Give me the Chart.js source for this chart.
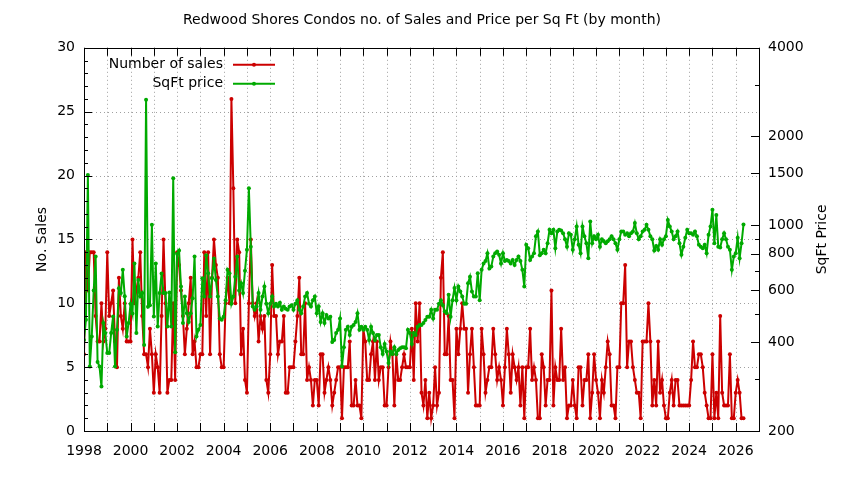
<!DOCTYPE html>
<html>
<head>
<meta charset="utf-8">
<title>Redwood Shores Condos</title>
<script src="https://cdn.jsdelivr.net/npm/chart.js@4.4.1/dist/chart.umd.min.js"></script>
<style>
  html, body { margin: 0; padding: 0; background: #fff; }
  canvas { display: block; }
</style>
</head>
<body>
<canvas id="condoChart" width="844" height="480"></canvas>
<script>
// monthly data, first value = Jan 1998
const startYear = 1998;

// number of sales per month (one line per year)
const sales = [
  6,14,11,14,14,14,9,7,7,10,7,8,
  14,9,10,11,7,5,12,9,8,10,7,7,
  7,15,10,11,12,14,9,6,6,5,8,6,
  3,6,5,3,9,15,10,3,4,4,10,4,
  14,13,11,9,6,8,10,12,6,7,5,5,
  6,6,14,9,14,6,12,15,13,12,6,5,
  5,10,12,10,26,19,10,15,14,6,8,4,
  3,10,15,10,9,10,7,9,8,9,4,3,
  6,13,9,9,6,7,7,9,3,3,5,5,
  5,7,9,12,6,6,10,4,5,4,2,4,
  4,2,6,6,3,4,5,4,2,3,4,5,
  5,1,5,5,5,7,2,2,4,2,2,1,
  8,7,4,4,6,7,4,7,4,5,5,2,
  2,5,7,6,2,6,4,4,5,6,5,5,
  5,8,4,10,7,10,3,2,4,1,3,1,
  2,5,2,3,12,14,6,6,9,4,4,1,
  8,6,8,10,8,8,3,6,8,5,2,2,
  2,8,6,3,4,5,5,8,6,4,5,4,
  2,5,8,6,3,6,5,4,5,2,5,1,
  5,5,8,4,5,4,1,1,6,5,2,4,
  4,11,2,5,4,4,8,4,5,1,2,2,
  4,2,1,5,5,2,4,4,6,1,3,6,
  4,3,1,4,3,5,7,6,2,2,1,5,
  5,10,10,13,5,7,7,5,4,3,3,1,
  7,7,7,10,7,2,4,2,7,3,4,2,
  1,1,3,4,2,4,4,2,2,2,2,2,
  2,4,7,5,5,6,6,5,3,2,1,1,
  6,1,3,1,9,3,2,2,2,6,1,1,
  3,4,3,1,1
];

// price per sq ft per month
const price = [
  407,477,1480,331,419,600,782,343,331,283,465,430,
  368,368,430,490,331,441,610,588,705,573,419,465,
  540,501,741,430,651,573,588,392,2665,528,535,1002,
  490,741,453,588,685,588,588,453,590,453,1443,370,
  800,820,619,465,572,502,469,502,565,782,419,441,
  458,660,572,790,686,572,660,770,651,572,482,477,
  489,556,705,686,541,572,668,782,600,635,588,700,
  825,1335,845,529,516,529,588,516,572,619,541,502,
  541,572,529,541,529,545,516,529,520,516,529,535,
  516,541,556,516,502,529,572,588,541,529,556,572,
  502,529,469,502,465,495,482,489,401,407,430,441,
  482,331,385,441,452,424,452,458,469,502,441,452,
  441,452,441,407,452,430,407,424,424,385,365,395,
  372,340,372,365,385,365,377,382,385,385,382,441,
  430,395,430,424,452,458,458,465,476,489,489,516,
  482,516,516,541,556,535,509,502,580,489,556,612,
  556,619,595,572,541,541,635,668,595,572,572,686,
  556,705,741,755,803,712,723,782,803,813,793,741,
  803,755,762,755,741,762,732,762,782,755,705,619,
  857,835,762,782,803,916,951,790,803,825,803,868,
  964,939,964,835,951,964,959,939,895,845,939,927,
  825,895,990,857,803,990,917,868,772,1028,868,917,
  895,927,845,895,882,868,882,895,917,895,868,825,
  895,951,951,927,939,917,939,951,1016,939,895,917,
  951,964,1002,964,917,895,820,850,825,895,857,895,
  917,1040,990,951,895,917,951,868,793,845,906,964,
  939,939,927,951,917,857,845,835,857,803,927,990,
  1127,868,1082,845,840,895,939,895,845,825,705,782,
  803,906,772,868,1004
];

// axis ticks
const yTickStep = 5;
const y2Ticks = [200,300,400,500,600,700,800,900,1000,1500,2000,3000,4000];
const y2Labels = [200,400,600,800,1000,1500,2000,4000];

const FONT = 'DejaVu Sans';
const RED = '#cc0000';
const GREEN = '#00aa00';

function toPoints(arr) {
  return arr.map((v, i) => ({ x: startYear + i / 12, y: v }));
}

// gnuplot style: dotted grid, border and inward tics, legend, axis labels
const gnuplotFrame = {
  id: 'gnuplotFrame',
  beforeDatasetsDraw(chart) {
    const { ctx, chartArea: a, scales } = chart;
    ctx.save();
    ctx.strokeStyle = '#a0a0a0';
    ctx.lineWidth = 1;
    ctx.setLineDash([1, 3]);
    ctx.beginPath();
    for (let yr = scales.x.min; yr <= scales.x.max; yr++) {
      const px = Math.round(scales.x.getPixelForValue(yr)) + 0.5;
      ctx.moveTo(px, a.top);
      ctx.lineTo(px, a.bottom);
    }
    for (let v = scales.y.min; v <= scales.y.max; v += yTickStep) {
      const py = Math.round(scales.y.getPixelForValue(v)) + 0.5;
      ctx.moveTo(a.left, py);
      ctx.lineTo(a.right, py);
    }
    ctx.stroke();
    ctx.restore();
  },
  afterDatasetsDraw(chart) {
    const { ctx, chartArea: a, scales } = chart;
    ctx.save();
    ctx.strokeStyle = '#000';
    ctx.lineWidth = 1;
    ctx.beginPath();
    for (let yr = scales.x.min; yr <= scales.x.max; yr++) {
      const px = Math.round(scales.x.getPixelForValue(yr)) + 0.5;
      ctx.moveTo(px, a.bottom); ctx.lineTo(px, a.bottom - 8);
      ctx.moveTo(px, a.top); ctx.lineTo(px, a.top + 8);
    }
    for (let v = scales.y.min; v <= scales.y.max; v++) {
      const py = Math.round(scales.y.getPixelForValue(v)) + 0.5;
      const len = v % yTickStep === 0 ? 8 : 4;
      ctx.moveTo(a.left, py); ctx.lineTo(a.left + len, py);
    }
    y2Ticks.forEach(v => {
      const py = Math.round(scales.y2.getPixelForValue(v)) + 0.5;
      const len = y2Labels.includes(v) ? 8 : 4;
      ctx.moveTo(a.right, py); ctx.lineTo(a.right - len, py);
    });
    ctx.stroke();
    ctx.strokeRect(Math.round(a.left) + 0.5, Math.round(a.top) + 0.5,
                   Math.round(a.right - a.left), Math.round(a.bottom - a.top));
    ctx.restore();
  },
  afterDraw(chart) {
    const { ctx, chartArea: a } = chart;
    ctx.save();
    ctx.font = '14px "' + FONT + '"';
    ctx.fillStyle = '#000';
    ctx.textBaseline = 'middle';

    // legend, text first then sample line like gnuplot
    chart.data.datasets.forEach(ds => {
      const y = a.top + 17 + ds.legendRow * 19;
      ctx.textAlign = 'right';
      ctx.fillStyle = '#000';
      ctx.fillText(ds.label, a.left + 139, y);
      ctx.strokeStyle = ds.borderColor;
      ctx.lineWidth = 2;
      ctx.beginPath();
      ctx.moveTo(a.left + 149, y);
      ctx.lineTo(a.left + 191, y);
      ctx.stroke();
      ctx.fillStyle = ds.borderColor;
      ctx.beginPath();
      ctx.arc(a.left + 170, y, 2, 0, Math.PI * 2);
      ctx.fill();
    });

    // axis labels
    const midY = (a.top + a.bottom) / 2;
    ctx.fillStyle = '#000';
    ctx.textAlign = 'center';
    [['No. Sales', 42], ['SqFt Price', 822]].forEach(([txt, x]) => {
      ctx.save();
      ctx.translate(x, midY);
      ctx.rotate(-Math.PI / 2);
      ctx.fillText(txt, 0, 0);
      ctx.restore();
    });
    ctx.restore();
  }
};

const tickFont = { family: FONT, size: 14 };

new Chart(document.getElementById('condoChart'), {
  type: 'line',
  data: {
    datasets: [
      {
        label: 'SqFt price',
        legendRow: 1,
        data: toPoints(price),
        yAxisID: 'y2',
        borderColor: GREEN,
        backgroundColor: GREEN,
        borderWidth: 2,
        pointRadius: 2,
        pointBorderWidth: 0,
        tension: 0,
        order: 0
      },
      {
        label: 'Number of sales',
        legendRow: 0,
        data: toPoints(sales),
        yAxisID: 'y',
        borderColor: RED,
        backgroundColor: RED,
        borderWidth: 2,
        pointRadius: 2,
        pointBorderWidth: 0,
        tension: 0,
        order: 1
      }
    ]
  },
  options: {
    responsive: false,
    animation: false,
    devicePixelRatio: 1,
    layout: { padding: 0 },
    plugins: {
      legend: { display: false },
      tooltip: { enabled: false },
      title: {
        display: true,
        text: 'Redwood Shores Condos no. of Sales and Price per Sq Ft (by month)',
        color: '#000',
        font: { family: FONT, size: 14, weight: 'normal' },
        padding: { top: 12, bottom: 19 }
      }
    },
    scales: {
      x: {
        type: 'linear',
        position: 'bottom',
        min: 1998,
        max: 2027,
        grid: { display: false, drawTicks: false },
        border: { display: false },
        ticks: {
          stepSize: 1,
          autoSkip: false,
          maxRotation: 0,
          padding: 12,
          color: '#000',
          font: tickFont,
          callback: v => (v % 2 === 0 && v < 2027 ? String(v) : '')
        },
        afterFit: s => { s.height = 49; }
      },
      y: {
        type: 'linear',
        position: 'left',
        min: 0,
        max: 30,
        grid: { display: false, drawTicks: false },
        border: { display: false },
        ticks: {
          stepSize: yTickStep,
          padding: 9,
          color: '#000',
          font: tickFont
        },
        afterFit: s => { s.width = 84; }
      },
      y2: {
        type: 'logarithmic',
        position: 'right',
        min: 200,
        max: 4000,
        grid: { display: false, drawTicks: false },
        border: { display: false },
        afterBuildTicks: s => { s.ticks = y2Ticks.map(v => ({ value: v })); },
        ticks: {
          autoSkip: false,
          padding: 9,
          color: '#000',
          font: tickFont,
          callback: v => (y2Labels.includes(v) ? String(v) : '')
        },
        afterFit: s => { s.width = 85; }
      }
    }
  },
  plugins: [gnuplotFrame]
});
</script>
</body>
</html>
